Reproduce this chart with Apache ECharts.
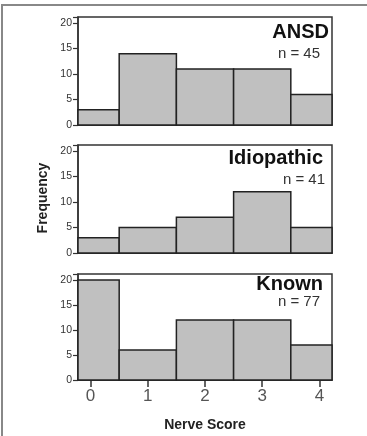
<!DOCTYPE html>
<html><head><meta charset="utf-8">
<script src="https://cdn.jsdelivr.net/npm/echarts@6/dist/echarts.min.js"></script>
<style>html,body{margin:0;padding:0;background:#fff}#c{width:367px;height:436px}</style>
</head><body><div id="c"></div>
<script>
const binStarts = [-0.22, 0.5, 1.5, 2.5, 3.5];
const binEnds   = [0.5, 1.5, 2.5, 3.5, 4.22];
const groupNames = ['ANSD', 'Idiopathic', 'Known'];
const groupN = [45, 41, 77];
const ansd = [3, 14, 11, 11, 6];
const idiopathic = [3, 5, 7, 12, 5];
const known = [20, 6, 12, 12, 7];
const xTicks = [0, 1, 2, 3, 4];
const yTicks = [0, 5, 10, 15, 20];

const seriesValues = [ansd, idiopathic, known];
const font = '"Liberation Sans", Arial, sans-serif';
const tops = [17, 145, 274];
const heights = [108, 108, 106];

const chart = echarts.init(document.getElementById('c'), null, {renderer: 'canvas'});
const grids = [], xAxes = [], yAxes = [], series = [], graphics = [];
for (let i = 0; i < 3; i++) {
  grids.push({left: 78, right: 35, top: tops[i], height: heights[i], show: true,
    borderColor: '#333', borderWidth: 1.5, backgroundColor: '#fff'});
  const last = i === 2;
  xAxes.push({type: 'value', gridIndex: i, min: -0.22, max: 4.22, interval: 1,
    splitLine: {show: false},
    axisLine: {show: true, onZero: false, lineStyle: {color: '#333', width: 1.5}},
    axisTick: {show: last, inside: false, length: 7, lineStyle: {color: '#333', width: 1.5},
      customValues: xTicks},
    axisLabel: {show: last, fontSize: 17, color: '#555', fontFamily: font, margin: 8,
      customValues: xTicks,
      formatter: v => String(v)}
  });
  yAxes.push({type: 'value', gridIndex: i, min: 0, max: 21.2, interval: 5,
    splitLine: {show: false},
    axisLine: {show: true, onZero: false, lineStyle: {color: '#333', width: 1.5}},
    axisTick: {show: true, inside: false, length: 5, lineStyle: {color: '#333', width: 1.2}},
    axisLabel: {fontSize: 10.5, color: '#333', fontFamily: font, margin: 6,
      formatter: v => (yTicks.indexOf(v) >= 0 ? String(v) : '')}
  });
  const data = seriesValues[i].map((v, k) => [binStarts[k], binEnds[k], v]);
  series.push({type: 'custom', xAxisIndex: i, yAxisIndex: i, data: data,
    encode: {x: [0, 1], y: 2},
    renderItem: function (params, api) {
      const p0 = api.coord([api.value(0), api.value(2)]);
      const p1 = api.coord([api.value(1), 0]);
      return {type: 'rect',
        shape: {x: p0[0], y: p0[1], width: p1[0] - p0[0], height: p1[1] - p0[1]},
        style: {fill: '#c0c0c0', stroke: '#222', lineWidth: 1.5}};
    }
  });
}
const nameRight = [329, 323, 323];
const nameBase = [42, 168, 294];
const nRight = [320, 325, 320];
const nBase = [61, 187, 309];
for (let i = 0; i < 3; i++) {
  graphics.push({type: 'text', x: nameRight[i], y: nameBase[i], z: 10,
    style: {text: groupNames[i], font: 'bold 20px ' + font, fill: '#111',
      textAlign: 'right', textVerticalAlign: 'bottom'}});
  graphics.push({type: 'text', x: nRight[i], y: nBase[i], z: 10,
    style: {text: 'n = ' + groupN[i], font: '15px ' + font, fill: '#333',
      textAlign: 'right', textVerticalAlign: 'bottom'}});
}
graphics.push({type: 'text', x: 43, y: 198, rotation: Math.PI / 2, z: 10,
  style: {text: 'Frequency', font: 'bold 14px ' + font, fill: '#222',
    textAlign: 'center', textVerticalAlign: 'middle'}});
graphics.push({type: 'text', x: 205, y: 425, z: 10,
  style: {text: 'Nerve Score', font: 'bold 14px ' + font, fill: '#222',
    textAlign: 'center', textVerticalAlign: 'middle'}});
graphics.push({type: 'polyline', z: 0, silent: true,
  shape: {points: [[2, 440], [2, 5], [370, 5]]},
  style: {stroke: '#888', lineWidth: 2, fill: null}});

chart.setOption({animation: false, grid: grids, xAxis: xAxes, yAxis: yAxes,
  series: series, graphic: graphics});
</script></body></html>
